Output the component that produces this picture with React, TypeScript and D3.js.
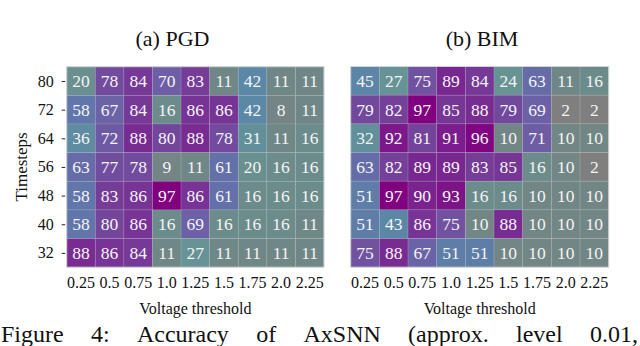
import React, { useMemo } from "react";
import * as d3 from "d3";

const thresholds = ["0.25", "0.5", "0.75", "1.0", "1.25", "1.5", "1.75", "2.0", "2.25"];
const timesteps = ["80", "72", "64", "56", "48", "40", "32"];

const pgdValues = [
  [20, 78, 84, 70, 83, 11, 42, 11, 11],
  [58, 67, 84, 16, 86, 86, 42, 8, 11],
  [36, 72, 88, 80, 88, 78, 31, 11, 16],
  [63, 77, 78, 9, 11, 61, 20, 16, 16],
  [58, 83, 86, 97, 86, 61, 16, 16, 16],
  [58, 80, 86, 16, 69, 16, 16, 16, 11],
  [88, 86, 84, 11, 27, 11, 11, 11, 11],
];

const bimValues = [
  [45, 27, 75, 89, 84, 24, 63, 11, 16],
  [79, 82, 97, 85, 88, 79, 69, 2, 2],
  [32, 92, 81, 91, 96, 10, 71, 10, 10],
  [63, 82, 89, 89, 83, 85, 16, 10, 2],
  [51, 97, 90, 93, 16, 16, 10, 10, 10],
  [51, 43, 86, 75, 10, 88, 10, 10, 10],
  [75, 88, 67, 51, 51, 10, 10, 10, 10],
];

const panelTitles = ["(a) PGD", "(b) BIM"];
const xLabel = "Voltage threshold";
const yLabel = "Timesteps";
const captionWords = ["Figure", "4:", "Accuracy", "of", "AxSNN", "(approx.", "level", "0.01,"];

const colorStops = [2, 11, 25, 42, 58, 70, 80, 88, 97];
const colorRange = ["#7f7f7f", "#708787", "#669494", "#5b88a6", "#6176aa", "#6d5ea6", "#73469c", "#782c92", "#800080"];

const FONT = "Liberation Serif, Times New Roman, DejaVu Serif, serif";

const color = d3.scaleLinear<string>().domain(colorStops).range(colorRange).interpolate(d3.interpolateRgb).clamp(true);

const txt = (size: number) => ({ fontFamily: FONT, fontSize: `${size}px` });

function Heatmap({ values, left, top, width, height, showY, title, titleX }) {
  const x = d3.scaleBand().domain(thresholds).range([left, left + width]);
  const y = d3.scaleBand().domain(timesteps).range([top, top + height]);
  return (
    <g>
      <text x={titleX} y={46} textAnchor="middle" style={txt(22)} fill="#111">
        {title}
      </text>
      {values.map((row, ri) =>
        row.map((v, ci) => (
          <g key={`${ri}-${ci}`}>
            <rect
              x={x(thresholds[ci])}
              y={y(timesteps[ri])}
              width={x.bandwidth()}
              height={y.bandwidth()}
              fill={color(v)}
              stroke="rgba(200,205,205,0.25)"
              strokeWidth={0.7}
            />
            <text
              x={x(thresholds[ci])! + x.bandwidth() / 2}
              y={y(timesteps[ri])! + y.bandwidth() / 2 + 6}
              textAnchor="middle"
              style={txt(17.5)}
              fill="#f4f4f4"
            >
              {v}
            </text>
          </g>
        ))
      )}
      <rect x={left} y={top} width={width} height={height} fill="none" stroke="#d0d4d4" strokeWidth={1} />
      {thresholds.map((t) => (
        <text key={t} x={x(t)! + x.bandwidth() / 2} y={top + height + 21} textAnchor="middle" style={txt(16)} fill="#111">
          {t}
        </text>
      ))}
      <text x={left + width / 2} y={314} textAnchor="middle" style={txt(16)} fill="#111">
        {xLabel}
      </text>
      {showY && (
        <g>
          {timesteps.map((t) => (
            <g key={t}>
              <text x={left - 13} y={y(t)! + y.bandwidth() / 2 + 5.5} textAnchor="end" style={txt(16)} fill="#111">
                {t}
              </text>
              <line x1={left - 5} x2={left - 1.5} y1={y(t)! + y.bandwidth() / 2 + 0.5} y2={y(t)! + y.bandwidth() / 2 + 0.5} stroke="#222" strokeWidth={1} />
            </g>
          ))}
          <text transform={`translate(27,${top + height / 2}) rotate(-90)`} textAnchor="middle" style={txt(17)} fill="#111">
            {yLabel}
          </text>
        </g>
      )}
    </g>
  );
}

function Caption() {
  const positions = useMemo(() => {
    const canvas = document.createElement("canvas");
    const ctx = canvas.getContext("2d")!;
    ctx.font = `24px ${FONT}`;
    const widths = captionWords.map((w) => ctx.measureText(w).width);
    const total = d3.sum(widths);
    const startX = 1;
    const endX = 638;
    const gap = (endX - startX - total) / (captionWords.length - 1);
    const xs: number[] = [];
    let cur = startX;
    widths.forEach((w) => {
      xs.push(cur);
      cur += w + gap;
    });
    return xs;
  }, []);
  return (
    <g>
      {captionWords.map((w, i) => (
        <text key={i} x={positions[i]} y={342} style={txt(24)} fill="#111">
          {w}
        </text>
      ))}
    </g>
  );
}

export default function App() {
  return (
    <svg width={640} height={346} style={{ position: "absolute", left: 0, top: 0, background: "#fff" }}>
      <rect width={640} height={346} fill="#fff" />
      <Heatmap values={pgdValues} left={66.7} top={66.7} width={257.3} height={200.5} showY={true} title={panelTitles[0]} titleX={172.5} />
      <Heatmap values={bimValues} left={350.7} top={66.5} width={258} height={200.7} showY={false} title={panelTitles[1]} titleX={482} />
      <Caption />
    </svg>
  );
}
